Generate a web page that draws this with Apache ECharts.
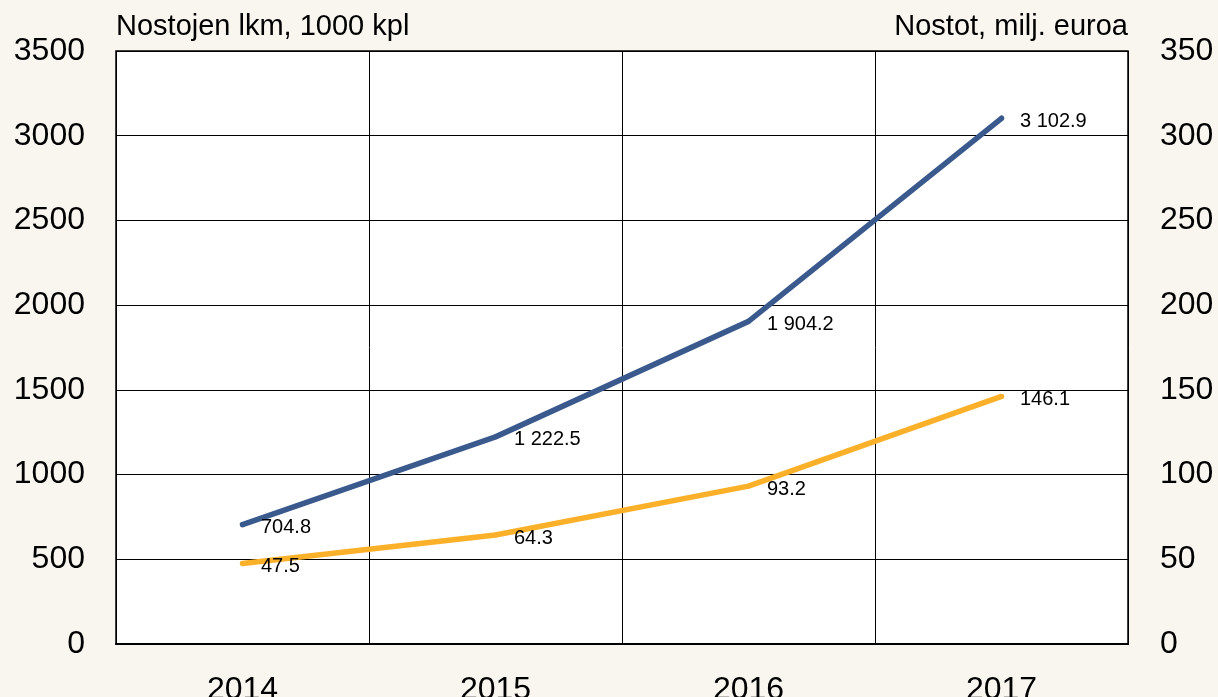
<!DOCTYPE html>
<html>
<head>
<meta charset="utf-8">
<script src="https://cdn.jsdelivr.net/npm/echarts@6/dist/echarts.min.js"></script>
<style>
  html, body { margin: 0; padding: 0; background: #f9f5ef; }
  #chart { width: 1218px; height: 697px; }
</style>
</head>
<body>
<div id="chart"></div>
<script>
const years = ['2014', '2015', '2016', '2017']
const withdrawals = [704.8, 1222.5, 1904.2, 3102.9]  // Nostojen lkm, 1000 kpl
const amounts = [47.5, 64.3, 93.2, 146.1]            // Nostot, milj. euroa

const font = "'Liberation Sans', Arial, sans-serif"

// 1 222.5 style
const fmt = v => {
  const parts = v.toFixed(1).split('.')
  return parts[0].replace(/\B(?=(\d{3})+(?!\d))/g, ' ') + '.' + parts[1]
}

const chart = echarts.init(document.getElementById('chart'))

const labelStyle = {
  show: true,
  position: 'right',
  distance: 16,
  offset: [0, 3],
  color: '#000',
  fontFamily: font,
  fontSize: 20,
  formatter: p => fmt(p.value)
}

const tickLabel = { color: '#000', fontFamily: font, fontSize: 32, formatter: v => String(v) }

chart.setOption({
  backgroundColor: '#f9f5ef',
  animation: false,
  grid: {
    left: 116, right: 90, top: 51, bottom: 53,
    containLabel: false,
    outerBoundsMode: 'none',
    show: true, backgroundColor: '#fff', borderColor: '#000', borderWidth: 1.5
  },
  xAxis: {
    type: 'category',
    data: years,
    boundaryGap: true,
    axisLine: { lineStyle: { color: '#000', width: 2 } },
    axisTick: { show: false },
    splitLine: { show: true, lineStyle: { color: '#000', width: 1 } },
    axisLabel: { color: '#000', fontFamily: font, fontSize: 32, margin: 30 }
  },
  yAxis: [
    {
      type: 'value',
      min: 0, max: 3500, interval: 500,
      name: 'Nostojen lkm, 1000 kpl',
      nameLocation: 'end',
      nameGap: 24,
      nameTextStyle: { color: '#000', fontFamily: font, fontSize: 29, align: 'left', verticalAlign: 'middle' },
      axisLine: { show: false },
      axisTick: { show: false },
      splitLine: { lineStyle: { color: '#000', width: 1 } },
      axisLabel: Object.assign({ margin: 31 }, tickLabel)
    },
    {
      type: 'value',
      min: 0, max: 350, interval: 50,
      name: 'Nostot, milj. euroa',
      nameLocation: 'end',
      nameGap: 24,
      nameTextStyle: { color: '#000', fontFamily: font, fontSize: 29, align: 'right', verticalAlign: 'middle' },
      axisLine: { show: false },
      axisTick: { show: false },
      splitLine: { show: false },
      axisLabel: Object.assign({ margin: 32 }, tickLabel)
    }
  ],
  series: [
    {
      name: 'Nostojen lkm',
      type: 'line',
      data: withdrawals,
      yAxisIndex: 0,
      symbol: 'circle',
      symbolSize: 5,
      itemStyle: { color: '#3a5a8e' },
      lineStyle: { color: '#3a5a8e', width: 5.5, cap: 'round' },
      label: labelStyle
    },
    {
      name: 'Nostot',
      type: 'line',
      data: amounts,
      yAxisIndex: 1,
      symbol: 'circle',
      symbolSize: 5,
      itemStyle: { color: '#fbb02a' },
      lineStyle: { color: '#fbb02a', width: 5.5, cap: 'round' },
      label: labelStyle
    }
  ]
})
</script>
</body>
</html>
